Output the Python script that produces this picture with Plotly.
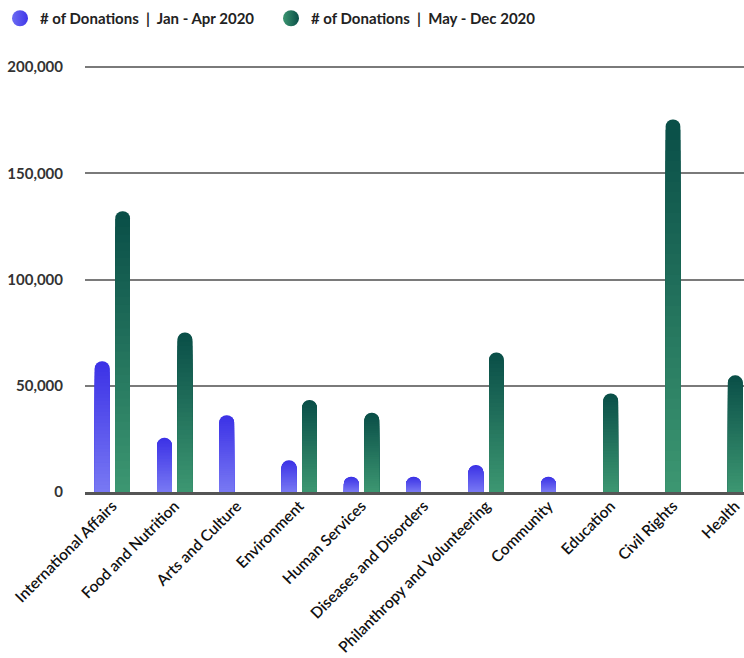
import plotly.graph_objects as go

# ---- data ----
categories = [
    "International Affairs", "Food and Nutrition", "Arts and Culture",
    "Environment", "Human Services", "Diseases and Disorders",
    "Philanthropy and Volunteering", "Community", "Education",
    "Civil Rights", "Health",
]
donations_jan_apr = [61600, 25500, 36100, 15000, 7200, 7200, 12700, 7200, None, None, None]
donations_may_dec = [132200, 75100, 0, 43300, 37300, 0, 65700, None, 46400, 175400, 54900]
series_names = ["# of Donations  |  Jan - Apr 2020", "# of Donations  |  May - Dec 2020"]
y_tick_values = [0, 50000, 100000, 150000, 200000]

# ---- styles ----
BLUE_TOP, BLUE_BOTTOM = (0x3c, 0x32, 0xe6), (0x78, 0x78, 0xf3)
GREEN_TOP, GREEN_BOTTOM = (0x0a, 0x4f, 0x48), (0x3c, 0x96, 0x71)
BAR_W = 0.236
HALF_GAP = 0.1645
N_SHADES = 36


def hexc(c):
    return "#%02x%02x%02x" % tuple(int(round(v)) for v in c)


def lerp(a, b, t):
    return tuple(a[i] + (b[i] - a[i]) * t for i in range(3))


def offsets(own, other, side):
    res = []
    for a, b in zip(own, other):
        if b is None:
            res.append(-BAR_W / 2)
        else:
            res.append(side * HALF_GAP - BAR_W / 2)
    return res


fig = go.Figure()

series = [
    (donations_jan_apr, donations_may_dec, -1, BLUE_TOP, BLUE_BOTTOM),
    (donations_may_dec, donations_jan_apr, 1, GREEN_TOP, GREEN_BOTTOM),
]
for vals, other, side, top, bottom in series:
    offs = offsets(vals, other, side)
    # vertical gradient: in-place shading layers of each bar
    for j in range(N_SHADES):
        frac = 1 - j / N_SHADES
        yv = [None if v is None else v * frac for v in vals]
        fig.add_trace(go.Bar(
            x=categories, y=yv, offset=offs, width=BAR_W,
            marker=dict(color=hexc(lerp(top, bottom, j / (N_SHADES - 1))),
                        cornerradius=7, line=dict(width=0)),
            showlegend=False, hoverinfo="skip",
        ))

legend_cols = [((0x6c, 0x6c, 0xf2), (0x40, 0x36, 0xe8)),
               ((0x3c, 0x96, 0x71), (0x0a, 0x4f, 0x48))]
for name, (c1, c2) in zip(series_names, legend_cols):
    fig.add_trace(go.Scatter(
        x=[None], y=[None], mode="markers", name=name,
        marker=dict(size=18, color=hexc(c1),
                    gradient=dict(type="horizontal", color=hexc(c2))),
    ))

fig.update_layout(
    width=744, height=658,
    margin=dict(l=85, r=0, t=65, b=166, autoexpand=False),
    barmode="overlay",
    paper_bgcolor="white", plot_bgcolor="white",
    showlegend=True,
    legend=dict(orientation="h", xref="container", yref="container",
                x=0.0, y=0.997, xanchor="left", yanchor="top",
                font=dict(family="Lato", size=15, color="#222", weight="bold"),
                entrywidth=226, itemwidth=30),
    xaxis=dict(type="category", range=[-0.44, 10.14], automargin=False,
               showline=True, linecolor="#555", linewidth=3,
               showgrid=False, tickangle=-45, ticks="",
               ticklabelstandoff=-4,
               tickfont=dict(family="Lato", size=15.5, color="#111", weight=600)),
    yaxis=dict(range=[0, 201000], tickvals=y_tick_values, tickformat=",",
               automargin=False,
               showgrid=True, gridcolor="#7a7a7a", gridwidth=1.5,
               zeroline=False, ticks="outside", ticklen=18,
               tickcolor="rgba(0,0,0,0)",
               tickfont=dict(family="Lato", size=15, color="#333", weight="bold")),
)

fig.write_html("out.html")
